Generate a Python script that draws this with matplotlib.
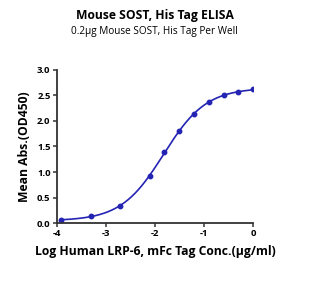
import numpy as np
import matplotlib
matplotlib.use("Agg")
import matplotlib.pyplot as plt

title = "Mouse SOST, His Tag ELISA"
subtitle = "0.2\u03bcg Mouse SOST, His Tag Per Well"
xlabel = "Log Human LRP-6, mFc Tag Conc.(\u03bcg/ml)"
ylabel = "Mean Abs.(OD450)"

log_conc = [-3.913, -3.311, -2.709, -2.107, -1.806, -1.505, -1.204, -0.903, -0.602, -0.301, 0.0]
od450 = [0.065, 0.136, 0.33, 0.93, 1.39, 1.81, 2.13, 2.37, 2.50, 2.56, 2.63]

xticks = [-4, -3, -2, -1, 0]
yticks = [0.0, 0.5, 1.0, 1.5, 2.0, 2.5, 3.0]

x = np.array(log_conc)
y = np.array(od450)

def f4(p, xx):
    b, t, c, h = p
    return b + (t - b) / (1 + 10 ** ((c - xx) * h))

# Gauss-Newton fit of 4PL
p = np.array([0.05, 2.7, -1.8, 1.0])
for _ in range(100):
    r = y - f4(p, x)
    J = np.zeros((len(x), 4))
    for i in range(4):
        dp = np.zeros(4); dp[i] = 1e-6
        J[:, i] = (f4(p + dp, x) - f4(p - dp, x)) / 2e-6
    step, *_ = np.linalg.lstsq(J, r, rcond=None)
    p = p + 0.5 * step

plt.rcParams['font.family'] = ['Open Sans', 'DejaVu Sans']
fig = plt.figure(figsize=(3.09, 2.82), dpi=100)
ax = fig.add_axes([0.184, 0.209, 0.635, 0.543])

xs = np.linspace(x.min(), x.max(), 300)
color = "#2424b4"
ax.plot(xs, f4(p, xs), color=color, lw=1.2)
ax.plot(x, y, 'o', color=color, ms=3.2)

ax.set_xlim(-4, 0)
ax.set_ylim(0, 3)
ax.set_xticks(xticks)
ax.set_yticks(yticks)
ax.set_xticklabels([str(t) for t in xticks], fontsize=6.8, fontweight='bold')
ax.set_yticklabels([f"{t:.1f}" for t in yticks], fontsize=6.8, fontweight='bold')
for s in ['top', 'right']:
    ax.spines[s].set_visible(False)
for s in ['left', 'bottom']:
    ax.spines[s].set_color('#333333')
    ax.spines[s].set_linewidth(1.3)
ax.tick_params(width=1.1, length=3, color='#333333', pad=1.5)
ax.set_xlabel(xlabel, fontsize=8.7, fontweight='bold', labelpad=5)
ax.set_ylabel(ylabel, fontsize=8.7, fontweight='bold', labelpad=4)

fig.text(0.5, 0.945, title, ha='center', va='center', fontsize=8.7, fontweight='bold')
fig.text(0.5, 0.89, subtitle, ha='center', va='center', fontsize=7.2)

fig.savefig("out.png", dpi=100)
